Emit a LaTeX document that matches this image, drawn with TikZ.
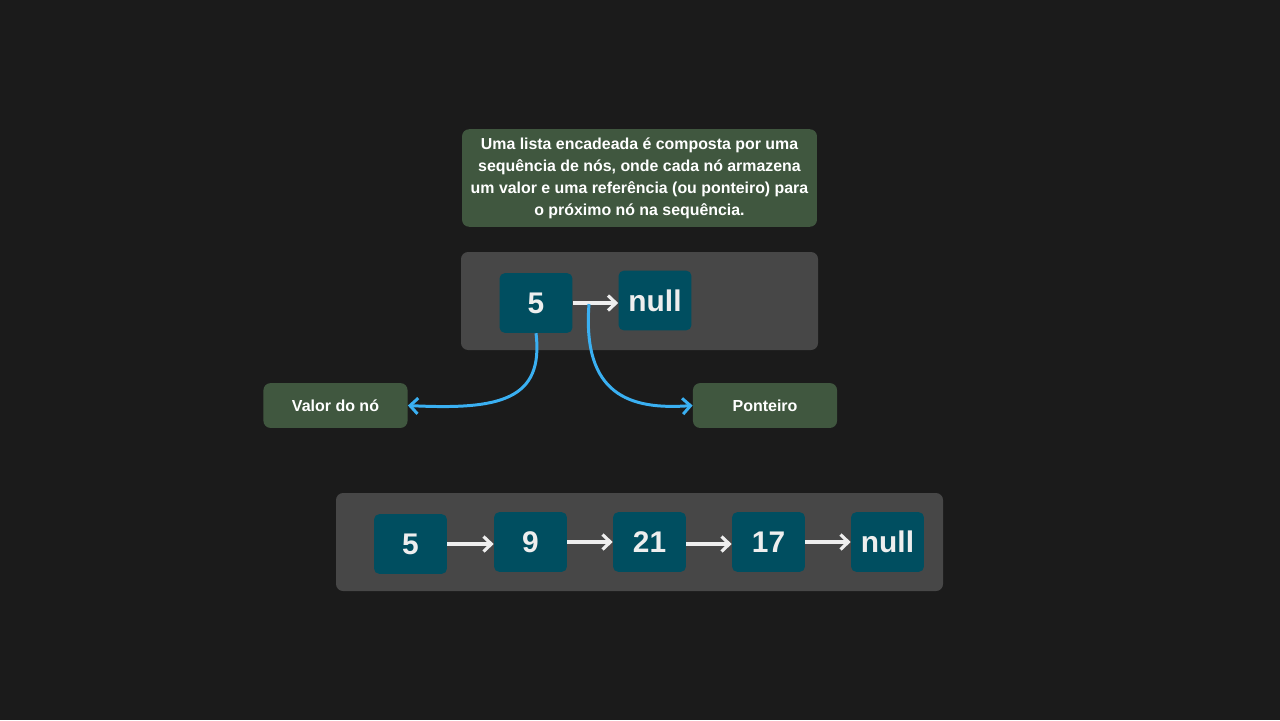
\documentclass[tikz,border=0pt]{standalone}
\usepackage{fontspec}
\setmainfont{Liberation Sans}
\usetikzlibrary{arrows.meta}

\definecolor{bgdark}{HTML}{1B1B1B}
\definecolor{panelgray}{HTML}{474747}
\definecolor{notegreen}{HTML}{40573F}
\definecolor{cellblue}{HTML}{004E60}
\definecolor{linkwhite}{HTML}{EEEEEE}
\definecolor{pointblue}{HTML}{3AB0F2}

\tikzset{
  panel/.style={fill=panelgray, rounded corners=4pt, draw=none},
  note/.style={fill=notegreen, rounded corners=4pt, text=white, font=\bfseries\fontsize{9.1}{10}\selectfont},
  cell/.style={fill=cellblue, rounded corners=3pt, text=linkwhite, minimum width=41.5pt, minimum height=34pt, inner sep=0pt, font=\bfseries\fontsize{17}{20}\selectfont},
  link/.style={-{Straight Barb[length=4.5pt,width=8.5pt]}, linkwhite, line width=1.8pt},
  hint/.style={-{Straight Barb[length=4.5pt,width=9pt]}, pointblue, line width=1.7pt}
}

\begin{document}
\begin{tikzpicture}[x=0.02cm,y=-0.02cm]

% background (pixel grid 1280 x 720)
\fill[bgdark] (0,0) rectangle (1280,720);

% description
\node[note, minimum width=202pt, minimum height=55.5pt, align=center,
  font=\bfseries\fontsize{9.05}{12.5}\selectfont] (desc) at (639.5,178)
  {Uma lista encadeada é composta por uma\\sequência de nós, onde cada nó armazena\\um valor e uma referência (ou ponteiro) para\\o próximo nó na sequência.};

% single node example
\fill[panel] (461,252) rectangle (818,350);
\node[cell] (one) at (536,303) {5};
\node[cell] (onenull) at (655,300.5) {null};
\draw[link] (one.east) -- (onenull.west |- one.east);

% labels
\node[note, minimum width=82pt, minimum height=25.5pt] (value) at (335.5,405.5) {Valor do nó};
\node[note, minimum width=82pt, minimum height=25.5pt] (pointer) at (765,405.5) {Ponteiro};

\coordinate (ptr) at (589,304);
\draw[hint] (one.south) .. controls (544,400) and (500,410) .. (value.east);
\draw[hint] (ptr) .. controls (582,395) and (630,410) .. (pointer.west);

% longer list
\fill[panel] (336,493) rectangle (943,591);
\node[cell] (c1) at (410.5,544) {5};
\node[cell] (c2) at (530.5,542) {9};
\node[cell] (c3) at (649.5,542) {21};
\node[cell] (c4) at (768.5,542) {17};
\node[cell] (c5) at (887.5,542) {null};
\draw[link] (c1.east) -- (c2.west |- c1.east);
\draw[link] (c2.east) -- (c3.west);
\draw[link] (c3.east) ++(0,2) -- ([yshift=-2*0.02cm]c4.west);
\draw[link] (c4.east) -- (c5.west);

\end{tikzpicture}
\end{document}
